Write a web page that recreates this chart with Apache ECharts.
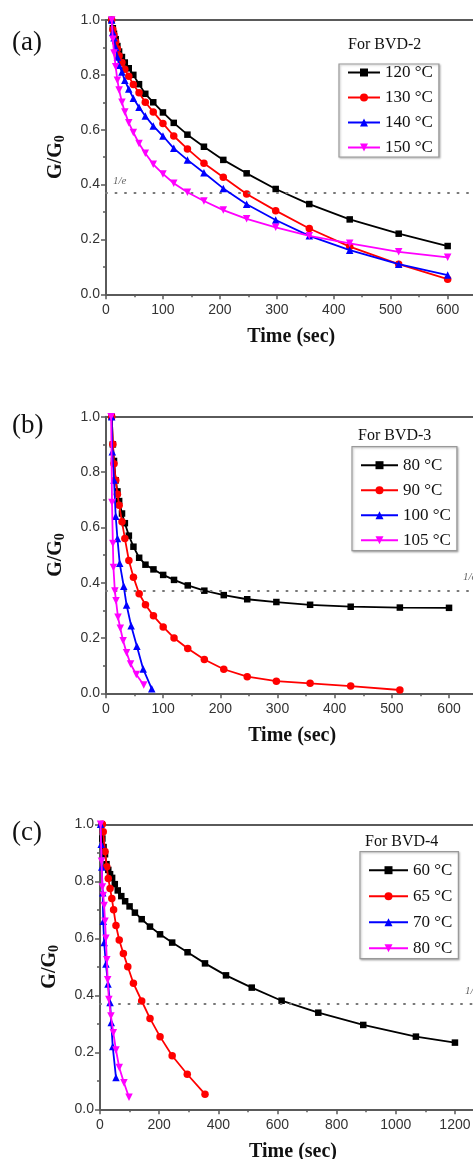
<!DOCTYPE html>
<html>
<head>
<meta charset="utf-8">
<script src="https://cdn.jsdelivr.net/npm/echarts@6/dist/echarts.min.js"></script>
<style>
  html, body { margin: 0; padding: 0; background: #fff; overflow: hidden; }
  #main { width: 473px; height: 1159px; }
</style>
</head>
<body>
<div id="main"></div>
<script>
// ---- data ----
// (a) BVD-2, all four runs share the same sampling times
var timeA = [10, 12, 14, 17, 20, 23, 28, 33, 40, 48, 58, 69, 83, 100, 119, 143, 172, 206, 247, 298, 357, 428, 514, 600];
var a120 = [1.0, 0.97, 0.95, 0.93, 0.905, 0.885, 0.865, 0.845, 0.824, 0.80, 0.766, 0.731, 0.70, 0.663, 0.625, 0.582, 0.538, 0.49, 0.441, 0.384, 0.329, 0.273, 0.221, 0.176];
var a130 = [1.0, 0.965, 0.945, 0.92, 0.895, 0.87, 0.845, 0.82, 0.795, 0.765, 0.735, 0.70, 0.665, 0.623, 0.577, 0.53, 0.478, 0.427, 0.366, 0.305, 0.24, 0.174, 0.11, 0.055];
var a140 = [1.0, 0.955, 0.935, 0.90, 0.865, 0.835, 0.81, 0.78, 0.748, 0.715, 0.682, 0.65, 0.614, 0.577, 0.532, 0.49, 0.443, 0.386, 0.328, 0.271, 0.213, 0.161, 0.11, 0.07];
var a150 = [1.0, 0.93, 0.88, 0.83, 0.78, 0.745, 0.70, 0.665, 0.625, 0.59, 0.55, 0.514, 0.474, 0.439, 0.405, 0.372, 0.34, 0.307, 0.275, 0.244, 0.213, 0.186, 0.155, 0.135];

// (b) BVD-3
var timeB80 = [10, 12, 14, 17, 20, 23, 28, 33, 40, 48, 58, 69, 83, 100, 119, 143, 172, 206, 247, 298, 357, 428, 514, 600];
var b80 = [1.0, 0.90, 0.84, 0.77, 0.73, 0.695, 0.65, 0.615, 0.57, 0.53, 0.49, 0.465, 0.448, 0.428, 0.41, 0.39, 0.371, 0.355, 0.34, 0.33, 0.32, 0.313, 0.31, 0.309];
var timeB90 = [10, 12, 14, 17, 20, 23, 28, 33, 40, 48, 58, 69, 83, 100, 119, 143, 172, 206, 247, 298, 357, 428, 514];
var b90 = [1.0, 0.90, 0.83, 0.77, 0.72, 0.68, 0.62, 0.56, 0.48, 0.42, 0.36, 0.32, 0.28, 0.24, 0.20, 0.162, 0.122, 0.087, 0.06, 0.044, 0.036, 0.026, 0.012];
var timeB100 = [10, 11, 14, 17, 20, 24, 31, 36, 44, 54, 65, 80];
var b100 = [1.0, 0.873, 0.771, 0.64, 0.56, 0.47, 0.387, 0.319, 0.244, 0.17, 0.088, 0.016];
var timeB105 = [9, 10.5, 12, 13, 15.5, 17.5, 21, 25, 30, 36, 43, 53, 66];
var b105 = [1.0, 0.69, 0.542, 0.455, 0.37, 0.335, 0.275, 0.235, 0.19, 0.147, 0.106, 0.068, 0.03];

// (c) BVD-4
var timeC60 = [5, 8, 12, 17, 22, 28, 34, 41, 50, 60, 72, 85, 100, 118, 141, 169, 203, 244, 296, 355, 426, 513, 614, 738, 890, 1068, 1200];
var c60 = [1.0, 0.95, 0.92, 0.895, 0.86, 0.84, 0.825, 0.812, 0.79, 0.768, 0.748, 0.73, 0.712, 0.69, 0.667, 0.641, 0.614, 0.585, 0.551, 0.512, 0.47, 0.427, 0.381, 0.339, 0.296, 0.255, 0.234];
var timeC65 = [8, 11, 17, 23, 28, 34, 40, 46, 54, 65, 79, 94, 113, 141, 169, 203, 244, 295, 355];
var c65 = [1.0, 0.974, 0.905, 0.851, 0.81, 0.775, 0.74, 0.70, 0.645, 0.594, 0.547, 0.50, 0.442, 0.38, 0.319, 0.255, 0.188, 0.123, 0.053];
var timeC70 = [2, 4, 6, 9, 11, 14, 20, 27, 34, 38, 43, 54];
var c70 = [1.0, 0.93, 0.85, 0.76, 0.66, 0.585, 0.51, 0.44, 0.375, 0.305, 0.22, 0.112];
var timeC80 = [2, 5, 8, 11, 14, 17, 20, 23, 26, 30, 37, 45, 54, 65, 81, 98];
var c80 = [1.0, 0.87, 0.78, 0.75, 0.715, 0.66, 0.60, 0.525, 0.455, 0.385, 0.327, 0.269, 0.208, 0.147, 0.093, 0.042];

var namesA = ['120 °C', '130 °C', '140 °C', '150 °C'];
var namesB = ['80 °C', '90 °C', '100 °C', '105 °C'];
var namesC = ['60 °C', '65 °C', '70 °C', '80\u00a0°C']; // nbsp so it does not clash with (b)'s 80 °C
var yTicks = [0, 0.2, 0.4, 0.6, 0.8, 1.0];
var oneOverE = 1 / Math.E;

var panels = [
  { tag: '(a)', head: 'For BVD-2', names: namesA, times: [timeA, timeA, timeA, timeA], values: [a120, a130, a140, a150], xMax: 700, step: 100 },
  { tag: '(b)', head: 'For BVD-3', names: namesB, times: [timeB80, timeB90, timeB100, timeB105], values: [b80, b90, b100, b105], xMax: 700, step: 100 },
  { tag: '(c)', head: 'For BVD-4', names: namesC, times: [timeC60, timeC65, timeC70, timeC80], values: [c60, c65, c70, c80], xMax: 1400, step: 200 }
];

// ---- layout (pixels) ----
var boxes = [
  { left: 106, top: 20, width: 398.6, height: 274.3, tagY: 29, headX: 348, headY: 37, legX: 339, legY: 64, legPad: [0, 6, 1, 8], legGap: 8, lineW: 32, eX: 113, eY: 182 },
  { left: 106, top: 416.7, width: 400.2, height: 276.6, tagY: 412, headX: 358, headY: 428, legX: 352, legY: 446.7, legPad: [10, 6, 2, 8], legGap: 8, lineW: 37, eX: 463, eY: 578 },
  { left: 100, top: 824.3, width: 414.1, height: 285, tagY: 819, headX: 365, headY: 834, legX: 360, legY: 851.7, legPad: [10, 6, 2, 8], legGap: 9, lineW: 39, eX: 465, eY: 992 }
];

var looks = [
  { color: '#000000', symbol: 'rect', size: 6.5, rotate: 0 },
  { color: '#ff0000', symbol: 'circle', size: 7.5, rotate: 0 },
  { color: '#0000ff', symbol: 'triangle', size: 7.5, rotate: 0 },
  { color: '#ff00ff', symbol: 'triangle', size: 7.5, rotate: 180 }
];

var axisGray = '#5a5a5a';
var serif = 'Liberation Serif';
var sans = 'Liberation Sans';

function pairs(ts, vs) {
  var out = [];
  for (var i = 0; i < vs.length; i++) out.push([ts[i], vs[i]]);
  return out;
}

var grids = [], xAxes = [], yAxes = [], series = [], legends = [], titles = [], graphics = [];

panels.forEach(function (p, i) {
  var b = boxes[i];
  grids.push({ left: b.left, top: b.top, width: b.width, height: b.height, outerBoundsMode: 'none' });

  xAxes.push({
    type: 'value', gridIndex: i, min: 0, max: p.xMax, interval: p.step,
    axisLine: { show: true, onZero: false, lineStyle: { color: axisGray, width: 2 } },
    axisTick: { show: true, length: 5, lineStyle: { color: axisGray, width: 1.5 } },
    minorTick: { show: true, splitNumber: 2, length: 3, lineStyle: { color: axisGray, width: 1.5 } },
    splitLine: { show: false },
    axisLabel: {
      fontFamily: sans, fontSize: 14, color: '#333', margin: 9,
      formatter: function (v) { return v % p.step === 0 ? String(v) : ''; }
    },
    name: 'Time (sec)', nameLocation: 'middle', nameGap: 33,
    nameTextStyle: { fontFamily: serif, fontWeight: 'bold', fontSize: 20, color: '#111', padding: [0, 28, 0, 0] }
  });

  yAxes.push({
    type: 'value', gridIndex: i, min: yTicks[0], max: yTicks[yTicks.length - 1], interval: yTicks[1] - yTicks[0],
    axisLine: { show: true, lineStyle: { color: axisGray, width: 2 } },
    axisTick: { show: true, length: 5, lineStyle: { color: axisGray, width: 1.5 } },
    minorTick: { show: true, splitNumber: 2, length: 3, lineStyle: { color: axisGray, width: 1.5 } },
    splitLine: { show: false },
    axisLabel: { fontFamily: sans, fontSize: 14, color: '#333', margin: 6, formatter: function (v) { return v.toFixed(1); } },
    name: 'G/G{s|0}', nameLocation: 'middle', nameGap: 39,
    nameTextStyle: {
      fontFamily: serif, fontWeight: 'bold', fontSize: 20, color: '#111',
      rich: { s: { fontFamily: serif, fontWeight: 'bold', fontSize: 14, color: '#111', padding: [9, 0, 0, 0] } }
    }
  });

  p.names.forEach(function (name, k) {
    var lk = looks[k];
    var s = {
      type: 'line', name: name, xAxisIndex: i, yAxisIndex: i,
      data: pairs(p.times[k], p.values[k]),
      symbol: lk.symbol, symbolSize: lk.size, symbolRotate: lk.rotate,
      lineStyle: { color: lk.color, width: 1.8 },
      itemStyle: { color: lk.color },
      z: 3 + k
    };
    if (k === 0) {
      s.markLine = {
        silent: true, symbol: 'none', label: { show: false },
        lineStyle: { color: '#777', type: [1, 8.5], width: 2, cap: 'round' },
        data: [{ yAxis: oneOverE }]
      };
    }
    series.push(s);
  });

  legends.push({
    data: p.names, orient: 'vertical', left: b.legX, top: b.legY,
    padding: b.legPad, itemGap: b.legGap, itemWidth: b.lineW, itemHeight: 10,
    borderColor: '#999', borderWidth: 1.2, backgroundColor: '#fff',
    shadowColor: 'rgba(0,0,0,0.25)', shadowBlur: 2, shadowOffsetX: 1, shadowOffsetY: 1,
    selectedMode: false,
    textStyle: { fontFamily: serif, fontSize: 17, color: '#111', lineHeight: 16 }
  });

  titles.push({ text: p.tag, left: 12, top: b.tagY, padding: 0,
    textStyle: { fontFamily: serif, fontWeight: 'normal', fontSize: 27, color: '#111' } });
  titles.push({ text: p.head, left: b.headX, top: b.headY, padding: 0,
    textStyle: { fontFamily: serif, fontWeight: 'normal', fontSize: 16, color: '#111' } });

  graphics.push({ type: 'text', left: b.eX, top: b.eY - 6, silent: true,
    style: { text: '1/e', fontFamily: serif, fontStyle: 'italic', fontSize: 11, fill: '#666' } });
});

// top frame line of every panel
panels.forEach(function (p, i) {
  xAxes.push({
    type: 'value', gridIndex: i, position: 'top', min: 0, max: p.xMax,
    axisLine: { show: true, onZero: false, lineStyle: { color: axisGray, width: 2 } },
    axisTick: { show: false }, axisLabel: { show: false }, splitLine: { show: false }
  });
});

var chart = echarts.init(document.getElementById('main'), null, { renderer: 'canvas' });
chart.setOption({
  animation: false,
  backgroundColor: '#ffffff',
  title: titles,
  legend: legends,
  grid: grids,
  xAxis: xAxes,
  yAxis: yAxes,
  series: series,
  graphic: graphics
});
</script>
</body>
</html>
